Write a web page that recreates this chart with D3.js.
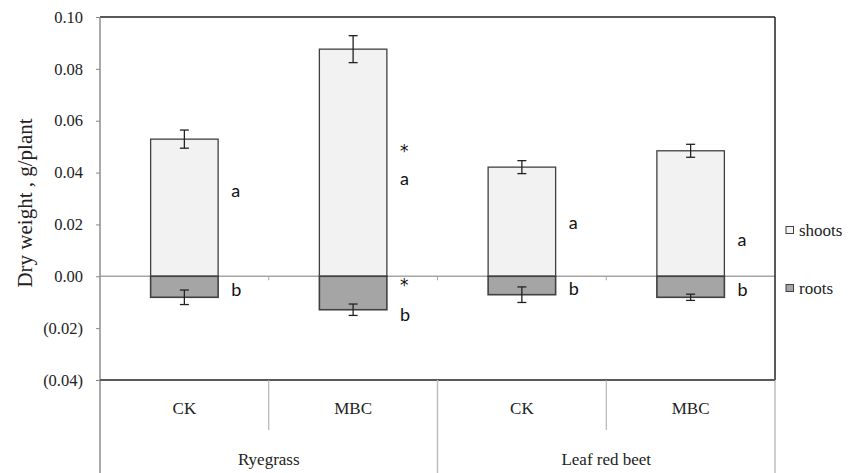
<!DOCTYPE html>
<html>
<head>
<meta charset="utf-8">
<script src="https://cdn.jsdelivr.net/npm/d3@7"></script>
<style>
  html, body { margin: 0; padding: 0; background: #fff; }
  svg { display: block; }
  .serif { font-family: 'Liberation Serif', 'Times New Roman', serif; }
</style>
</head>
<body>
<svg id="chart" width="856" height="473"></svg>
<script>
// ---- data ----
const treatments = ["CK", "MBC", "CK", "MBC"];
const crops = ["Ryegrass", "Leaf red beet"];
const cropOfBar = [0, 0, 1, 1];
const shoots = [0.0529, 0.0876, 0.0421, 0.0484];
const shootsErr = [0.0035, 0.0052, 0.0025, 0.0025];
const roots = [-0.0081, -0.0129, -0.0071, -0.0081];
const rootsErr = [0.0028, 0.0022, 0.0030, 0.0012];
const shootLetters = ["a", "a", "a", "a"];
const shootLetterAt = [0.0334, 0.0380, 0.0210, 0.0142];
const rootLetters = ["b", "b", "b", "b"];
const rootLetterAt = [-0.0048, -0.0146, -0.0046, -0.0048];
const starMarks = [
  { bar: 1, at: 0.0496 },
  { bar: 1, at: -0.0022 }
];
const yTicks = [-0.04, -0.02, 0, 0.02, 0.04, 0.06, 0.08, 0.10];
const seriesNames = ["shoots", "roots"];
const yTitle = "Dry weight , g/plant";

// ---- layout ----
const svg = d3.select("#chart");
const L = 100, R = 775, T = 17, B = 380, BOTTOM = 473;
const serif = "'Liberation Serif', 'Times New Roman', serif";
const sans = "Lato, 'Open Sans', sans-serif";

const y = d3.scaleLinear().domain([-0.04, 0.10]).range([B, T]);
const idx = treatments.map((d, i) => i);
const x = d3.scaleBand().domain(idx).range([L, R]).paddingInner(0.6).paddingOuter(0.3);
const step = x.step();
const fill = { shoots: "#f2f2f2", roots: "#a5a5a5" };

// y axis ticks + labels
const fmt = v => {
  const s = d3.format(".2f")(Math.abs(v));
  return v < 0 ? "(" + s + ")" : s;
};
const yAxis = d3.axisLeft(y).tickValues(yTicks).tickSize(4).tickPadding(13).tickFormat(fmt);
const gy = svg.append("g").attr("transform", `translate(${L},0)`).call(yAxis)
  .attr("font-family", serif).attr("font-size", 16.5);
gy.select(".domain").remove();
gy.selectAll(".tick line").attr("stroke", "#868686");
gy.selectAll(".tick text").attr("fill", "#222").attr("class", "serif").style("font-family", serif);

// y title
svg.append("text")
  .attr("transform", `translate(25,203) rotate(-90)`)
  .attr("text-anchor", "middle").attr("dominant-baseline", "central")
  .attr("class", "serif").attr("font-size", 21).attr("fill", "#222")
  .text(yTitle);

// zero line
svg.append("line").attr("x1", L).attr("x2", R).attr("y1", y(0)).attr("y2", y(0))
  .attr("stroke", "#a6a6a6").attr("stroke-width", 1.5);
// ticks on zero line at category boundaries
[1, 2, 3].forEach(k => {
  const xx = L + k * step;
  svg.append("line").attr("x1", xx).attr("x2", xx).attr("y1", y(0)).attr("y2", y(0) + 4)
    .attr("stroke", "#a6a6a6").attr("stroke-width", 1);
});

// bars
const bw = x.bandwidth();
svg.append("g").selectAll("rect.shoot").data(idx).join("rect")
  .attr("x", i => x(i)).attr("width", bw)
  .attr("y", i => y(shoots[i])).attr("height", i => y(0) - y(shoots[i]))
  .attr("fill", fill.shoots).attr("stroke", "#404040").attr("stroke-width", 1.3);
svg.append("g").selectAll("rect.root").data(idx).join("rect")
  .attr("x", i => x(i)).attr("width", bw)
  .attr("y", y(0)).attr("height", i => y(roots[i]) - y(0))
  .attr("fill", fill.roots).attr("stroke", "#404040").attr("stroke-width", 1.6);

// error bars
function errBar(cx, v, e) {
  const g = svg.append("g").attr("stroke", "#222").attr("stroke-width", 1.3);
  g.append("line").attr("x1", cx).attr("x2", cx).attr("y1", y(v + e)).attr("y2", y(v - e));
  g.append("line").attr("x1", cx - 4.5).attr("x2", cx + 4.5).attr("y1", y(v + e)).attr("y2", y(v + e));
  g.append("line").attr("x1", cx - 4.5).attr("x2", cx + 4.5).attr("y1", y(v - e)).attr("y2", y(v - e));
}
idx.forEach(i => {
  const cx = x(i) + bw / 2;
  errBar(cx, shoots[i], shootsErr[i]);
  errBar(cx, roots[i], rootsErr[i]);
});

// letters
const lg = svg.append("g").attr("font-family", sans).attr("font-size", 18).attr("fill", "#111")
  .attr("dominant-baseline", "central");
idx.forEach(i => {
  const lx = x(i) + bw + 13;
  lg.append("text").attr("x", lx).attr("y", y(shootLetterAt[i])).text(shootLetters[i]);
  lg.append("text").attr("x", lx).attr("y", y(rootLetterAt[i])).text(rootLetters[i]);
});
starMarks.forEach(s => {
  lg.append("text").attr("x", x(s.bar) + bw + 13).attr("y", y(s.at) + 3)
    .attr("font-family", "'DejaVu Sans', sans-serif").attr("font-size", 17).text("*");
});

// frame
svg.append("line").attr("x1", L).attr("x2", R).attr("y1", T).attr("y2", T)
  .attr("stroke", "#595959").attr("stroke-width", 2);
svg.append("line").attr("x1", R).attr("x2", R).attr("y1", T).attr("y2", B)
  .attr("stroke", "#222").attr("stroke-width", 1.5);
svg.append("line").attr("x1", L).attr("x2", L).attr("y1", T).attr("y2", BOTTOM)
  .attr("stroke", "#8c8c8c").attr("stroke-width", 1.5);
svg.append("line").attr("x1", R).attr("x2", R).attr("y1", B).attr("y2", BOTTOM)
  .attr("stroke", "#bfbfbf").attr("stroke-width", 1.5);
svg.append("line").attr("x1", L).attr("x2", R).attr("y1", B).attr("y2", B)
  .attr("stroke", "#595959").attr("stroke-width", 2);

// category axis
[1, 3].forEach(k => {
  const xx = L + k * step;
  svg.append("line").attr("x1", xx).attr("x2", xx).attr("y1", B).attr("y2", 430)
    .attr("stroke", "#a6a6a6").attr("stroke-width", 1);
});
svg.append("line").attr("x1", L + 2 * step).attr("x2", L + 2 * step).attr("y1", B).attr("y2", BOTTOM)
  .attr("stroke", "#bfbfbf").attr("stroke-width", 1.5);
const cg = svg.append("g").attr("class", "serif").attr("font-size", 17).attr("fill", "#222")
  .attr("text-anchor", "middle").attr("dominant-baseline", "central");
idx.forEach(i => {
  cg.append("text").attr("x", x(i) + bw / 2).attr("y", 408).text(treatments[i]);
});
crops.forEach((c, k) => {
  const bars = idx.filter(i => cropOfBar[i] === k);
  const cx = (x(bars[0]) + x(bars[bars.length - 1]) + bw) / 2;
  cg.append("text").attr("x", cx).attr("y", 459).text(c);
});

// legend
const leg = svg.append("g").attr("font-size", 17);
seriesNames.forEach((n, k) => {
  const ly = [230, 288][k];
  leg.append("rect").attr("x", 786).attr("y", ly - 3.5).attr("width", 7.5).attr("height", 7)
    .attr("fill", fill[n]).attr("stroke", "#404040").attr("stroke-width", 1);
  leg.append("text").attr("x", 799).attr("y", ly).attr("dominant-baseline", "central")
    .attr("class", "serif").style("font-family", serif).attr("fill", "#222").text(n);
});
</script>
</body>
</html>
